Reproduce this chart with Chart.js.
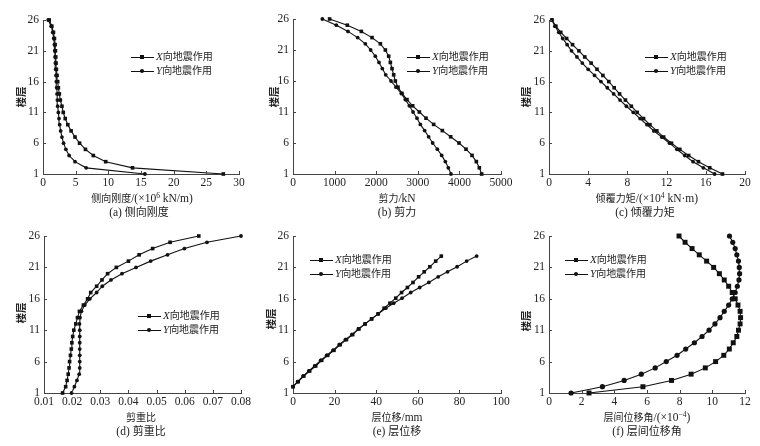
<!DOCTYPE html>
<html lang="zh">
<head>
  <meta charset="utf-8">
  <title>楼层响应曲线</title>
  <script src="https://cdn.jsdelivr.net/npm/chart.js@4/dist/chart.umd.min.js"></script>
  <style>
    body { margin:0; background:#fff; width:760px; height:446px; position:relative; overflow:hidden; color:#222;
      font-family:"Liberation Serif","Noto Sans CJK SC",serif; }
    canvas { position:absolute; }
    .c { font-family:"Noto Sans CJK SC",sans-serif; font-size:10px; }
    .cap .c { font-size:11px; }
    .t { position:absolute; white-space:nowrap; transform:translate(-50%,-50%); font-size:11.5px; line-height:13px; }
    .t sup { font-size:7.5px; vertical-align:4px; line-height:0; }
    .yl { position:absolute; white-space:nowrap; transform:translate(-50%,-50%) rotate(-90deg); font-family:"Noto Sans CJK SC",sans-serif; font-size:10.5px; font-weight:bold; }
    .lg { position:absolute; font-size:11px; line-height:14px; white-space:nowrap; }
    .lg i { font-family:"Liberation Serif",serif; }
    .sw { display:inline-block; width:23px; height:1px; background:#111; position:relative; vertical-align:middle; margin-right:2px; }
    .sw b { position:absolute; left:9px; top:-1.5px; width:4px; height:4px; background:#111; }
    .sw b.ci { border-radius:50%; }
  </style>
</head>
<body>
  <canvas id="ca" width="250" height="192" style="left:0;top:0"></canvas>
  <canvas id="cb" width="270" height="192" style="left:250px;top:0"></canvas>
  <canvas id="cc" width="255" height="192" style="left:505px;top:0"></canvas>
  <canvas id="cd" width="260" height="188" style="left:0;top:222px"></canvas>
  <canvas id="ce" width="270" height="188" style="left:250px;top:222px"></canvas>
  <canvas id="cf" width="255" height="188" style="left:505px;top:222px"></canvas>

  <div class="yl" style="left:20px;top:97px">楼层</div>
  <div class="yl" style="left:273px;top:97px">楼层</div>
  <div class="yl" style="left:525px;top:97px">楼层</div>
  <div class="yl" style="left:20px;top:313px">楼层</div>
  <div class="yl" style="left:270px;top:319px">楼层</div>
  <div class="yl" style="left:525px;top:321px">楼层</div>

  <div class="t" style="left:142px;top:198px"><span class="c">侧向刚度</span>/(×10<sup>6</sup> kN/m)</div>
  <div class="t cap" style="left:139px;top:212px">(a) <span class="c">侧向刚度</span></div>
  <div class="t" style="left:397px;top:198px"><span class="c">剪力</span>/kN</div>
  <div class="t cap" style="left:397px;top:212px">(b) <span class="c">剪力</span></div>
  <div class="t" style="left:647px;top:198px"><span class="c">倾覆力矩</span>/(×10<sup>4</sup> kN·m)</div>
  <div class="t cap" style="left:645px;top:212px">(c) <span class="c">倾覆力矩</span></div>
  <div class="t" style="left:141px;top:417px"><span class="c">剪重比</span></div>
  <div class="t cap" style="left:141px;top:431px">(d) <span class="c">剪重比</span></div>
  <div class="t" style="left:397px;top:417px"><span class="c">层位移</span>/mm</div>
  <div class="t cap" style="left:397px;top:431px">(e) <span class="c">层位移</span></div>
  <div class="t" style="left:647px;top:417px"><span class="c">层间位移角</span>/(×10<sup>−4</sup>)</div>
  <div class="t cap" style="left:647px;top:431px">(f) <span class="c">层间位移角</span></div>

  <div id="legends"></div>

  <script>
    // floors and tick labels
    const floors = [1,2,3,4,5,6,7,8,9,10,11,12,13,14,15,16,17,18,19,20,21,22,23,24,25,26];
    const yTicks = [1,6,11,16,21,26];
    const seriesNames = ['X','Y'];

    // (a) lateral stiffness, x10^6 kN/m
    const aTicks = [0,5,10,15,20,25,30];
    const aX = [27.6,13.7,9.6,7.7,6.5,5.6,4.9,4.3,3.8,3.4,3.1,2.9,2.65,2.5,2.35,2.25,2.15,2.05,2.0,1.95,1.9,1.85,1.75,1.6,1.35,0.95];
    const aY = [15.6,6.6,4.9,4.0,3.5,3.15,2.9,2.7,2.55,2.45,2.35,2.25,2.2,2.15,2.1,2.05,2.0,1.95,1.9,1.85,1.8,1.75,1.65,1.5,1.25,0.8];

    // (b) storey shear, kN
    const bTicks = [0,1000,2000,3000,4000,5000];
    const bX = [4535,4479,4407,4303,4159,3990,3790,3590,3381,3197,3037,2877,2740,2620,2524,2460,2420,2380,2340,2300,2220,2100,1900,1643,1306,880];
    const bY = [3798,3734,3662,3574,3470,3357,3261,3165,3061,2981,2885,2796,2700,2604,2476,2356,2228,2147,2067,1979,1867,1739,1554,1322,1042,705];

    // (c) overturning moment, x10^4 kN·m
    const cTicks = [0,4,8,12,16,20];
    const cX = [17.7,16.4,15.25,14.25,13.35,12.5,11.7,11.0,10.3,9.65,9.0,8.4,7.8,7.2,6.65,6.1,5.5,4.9,4.3,3.65,3.05,2.4,1.8,1.2,0.7,0.3];
    const cY = [16.9,15.75,14.7,13.85,13.05,12.3,11.5,10.7,10.0,9.3,8.6,7.9,7.25,6.6,5.95,5.3,4.65,4.0,3.4,2.85,2.3,1.85,1.4,1.0,0.6,0.3];

    // (d) shear-weight ratio
    const dTicks = [0.01,0.02,0.03,0.04,0.05,0.06,0.07,0.08];
    const dX = [0.0166,0.0177,0.0182,0.0186,0.0189,0.0191,0.0194,0.0197,0.0199,0.0202,0.0206,0.0213,0.0219,0.0226,0.0240,0.0255,0.0266,0.0287,0.0306,0.0326,0.0357,0.0400,0.0438,0.0486,0.0548,0.0650];
    const dY = [0.0198,0.0208,0.0217,0.0225,0.0227,0.0227,0.0227,0.0227,0.0227,0.0227,0.0227,0.0226,0.0228,0.0233,0.0245,0.0263,0.0287,0.0307,0.0338,0.0377,0.0427,0.0479,0.0539,0.0599,0.0679,0.0800];

    // (e) storey displacement, mm (points sit at these heights in the figure)
    const eTicks = [0,20,40,60,80,100];
    const eLevels = [2.0,2.8,3.7,4.5,5.3,6.2,7.0,7.8,8.7,9.5,10.3,11.2,12.0,12.8,13.6,14.5,15.3,16.1,17.0,17.8,18.6,19.5,20.3,21.1,22.0,22.8];
    const eX = [0,2.5,5.2,8.0,10.9,13.8,16.7,19.7,22.7,25.7,28.7,31.7,34.7,37.8,40.9,43.8,46.6,49.4,52.2,55.0,57.7,60.4,63.1,65.8,68.6,71.3];
    const eY = [0,2.2,4.8,7.6,10.4,13.3,16.2,19.2,22.2,25.2,28.3,31.4,34.6,37.8,41.0,44.6,48.4,52.4,56.6,60.9,65.3,69.8,74.3,78.9,83.5,88.3];

    // (f) inter-storey drift, x10^-4
    const fTicks = [0,2,4,6,8,10,12];
    const fX = [2.45,5.75,7.5,8.7,9.57,10.2,10.7,11.04,11.28,11.5,11.6,11.7,11.73,11.7,11.57,11.4,11.22,11.0,10.73,10.43,10.08,9.65,9.2,8.76,8.33,7.96];
    const fY = [1.35,3.27,4.6,5.65,6.5,7.18,7.84,8.37,8.9,9.37,9.8,10.16,10.47,10.73,11.0,11.22,11.4,11.53,11.63,11.67,11.65,11.6,11.5,11.4,11.25,11.05];

    // inward tick marks
    const inTicks = {id:'inTicks', afterDraw(c){
      const ctx=c.ctx, a=c.chartArea, sx=c.scales.x, sy=c.scales.y;
      ctx.save(); ctx.strokeStyle='#444'; ctx.lineWidth=1; ctx.beginPath();
      sx.ticks.forEach(t=>{const p=Math.round(sx.getPixelForValue(t.value))+0.5; ctx.moveTo(p,a.bottom); ctx.lineTo(p,a.bottom-3);});
      sy.ticks.forEach(t=>{const p=Math.round(sy.getPixelForValue(t.value))+0.5; ctx.moveTo(a.left,p); ctx.lineTo(a.left+3,p);});
      ctx.stroke(); ctx.restore();
    }};

    function ds(label, xs, ys, style, r){
      return {label, data: xs.map((x,i)=>({x, y: ys[i]})), showLine:true, clip:false,
        borderColor:'#111', borderWidth:1.1, pointStyle:style, pointRadius:r,
        pointBackgroundColor:'#111', pointBorderWidth:0};
    }
    const font = {family:'Liberation Serif', size:11.5};

    function panel(id, p){
      new Chart(document.getElementById(id), {
        type:'scatter',
        data:{datasets:[ds(seriesNames[0], p.xs[0], p.ys, 'rect', p.r*1.35), ds(seriesNames[1], p.xs[1], p.ys, 'circle', p.r)]},
        options:{
          responsive:false, animation:false, events:[],
          layout:{padding:{left:0, top:p.top, right:p.right, bottom:0}},
          plugins:{legend:{display:false}, tooltip:{enabled:false}},
          scales:{
            x:{type:'linear', min:p.ticks[0], max:p.ticks[p.ticks.length-1],
              afterBuildTicks:s=>{s.ticks=p.ticks.map(v=>({value:v}));}, afterFit:s=>{s.height=p.xh;},
              grid:{display:false, drawTicks:false}, border:{display:true, color:'#444', width:1},
              ticks:{padding:2, autoSkip:false, maxRotation:0, color:'#222', font, callback:v=>p.fmt?p.fmt(v):String(v)}},
            y:{type:'linear', min:1, max:26,
              afterBuildTicks:s=>{s.ticks=yTicks.map(v=>({value:v}));}, afterFit:s=>{s.width=p.yw;},
              grid:{display:false, drawTicks:false}, border:{display:true, color:'#444', width:1},
              ticks:{padding:4, autoSkip:false, color:'#222', font, callback:v=>String(v)}}
          }
        },
        plugins:[inTicks]
      });
    }

    panel('ca', {xs:[aX,aY], ys:floors, ticks:aTicks, top:20, right:11, yw:43, xh:18, r:1.9});
    panel('cb', {xs:[bX,bY], ys:floors, ticks:bTicks, top:19, right:19, yw:43, xh:18, r:1.9});
    panel('cc', {xs:[cX,cY], ys:floors, ticks:cTicks, top:20, right:15, yw:44, xh:18, r:1.9});
    panel('cd', {xs:[dX,dY], ys:floors, ticks:dTicks, top:14, right:19, yw:44, xh:17, r:1.9, fmt:v=>v.toFixed(2)});
    panel('ce', {xs:[eX,eY], ys:eLevels, ticks:eTicks, top:14, right:19, yw:43, xh:17, r:1.9});
    panel('cf', {xs:[fX,fY], ys:floors, ticks:fTicks, top:14, right:15, yw:44, xh:17, r:2.6});

    // legends
    const legendPos = [[131,49],[407,49],[645,49],[138,308],[310,252],[565,252]];
    document.getElementById('legends').innerHTML = legendPos.map(([l,t])=>
      `<div class="lg" style="left:${l}px;top:${t}px">`+
      `<div><span class="sw"><b></b></span><i>X</i><span class="c">向地震作用</span></div>`+
      `<div><span class="sw"><b class="ci"></b></span><i>Y</i><span class="c">向地震作用</span></div></div>`).join('');
  </script>
</body>
</html>
